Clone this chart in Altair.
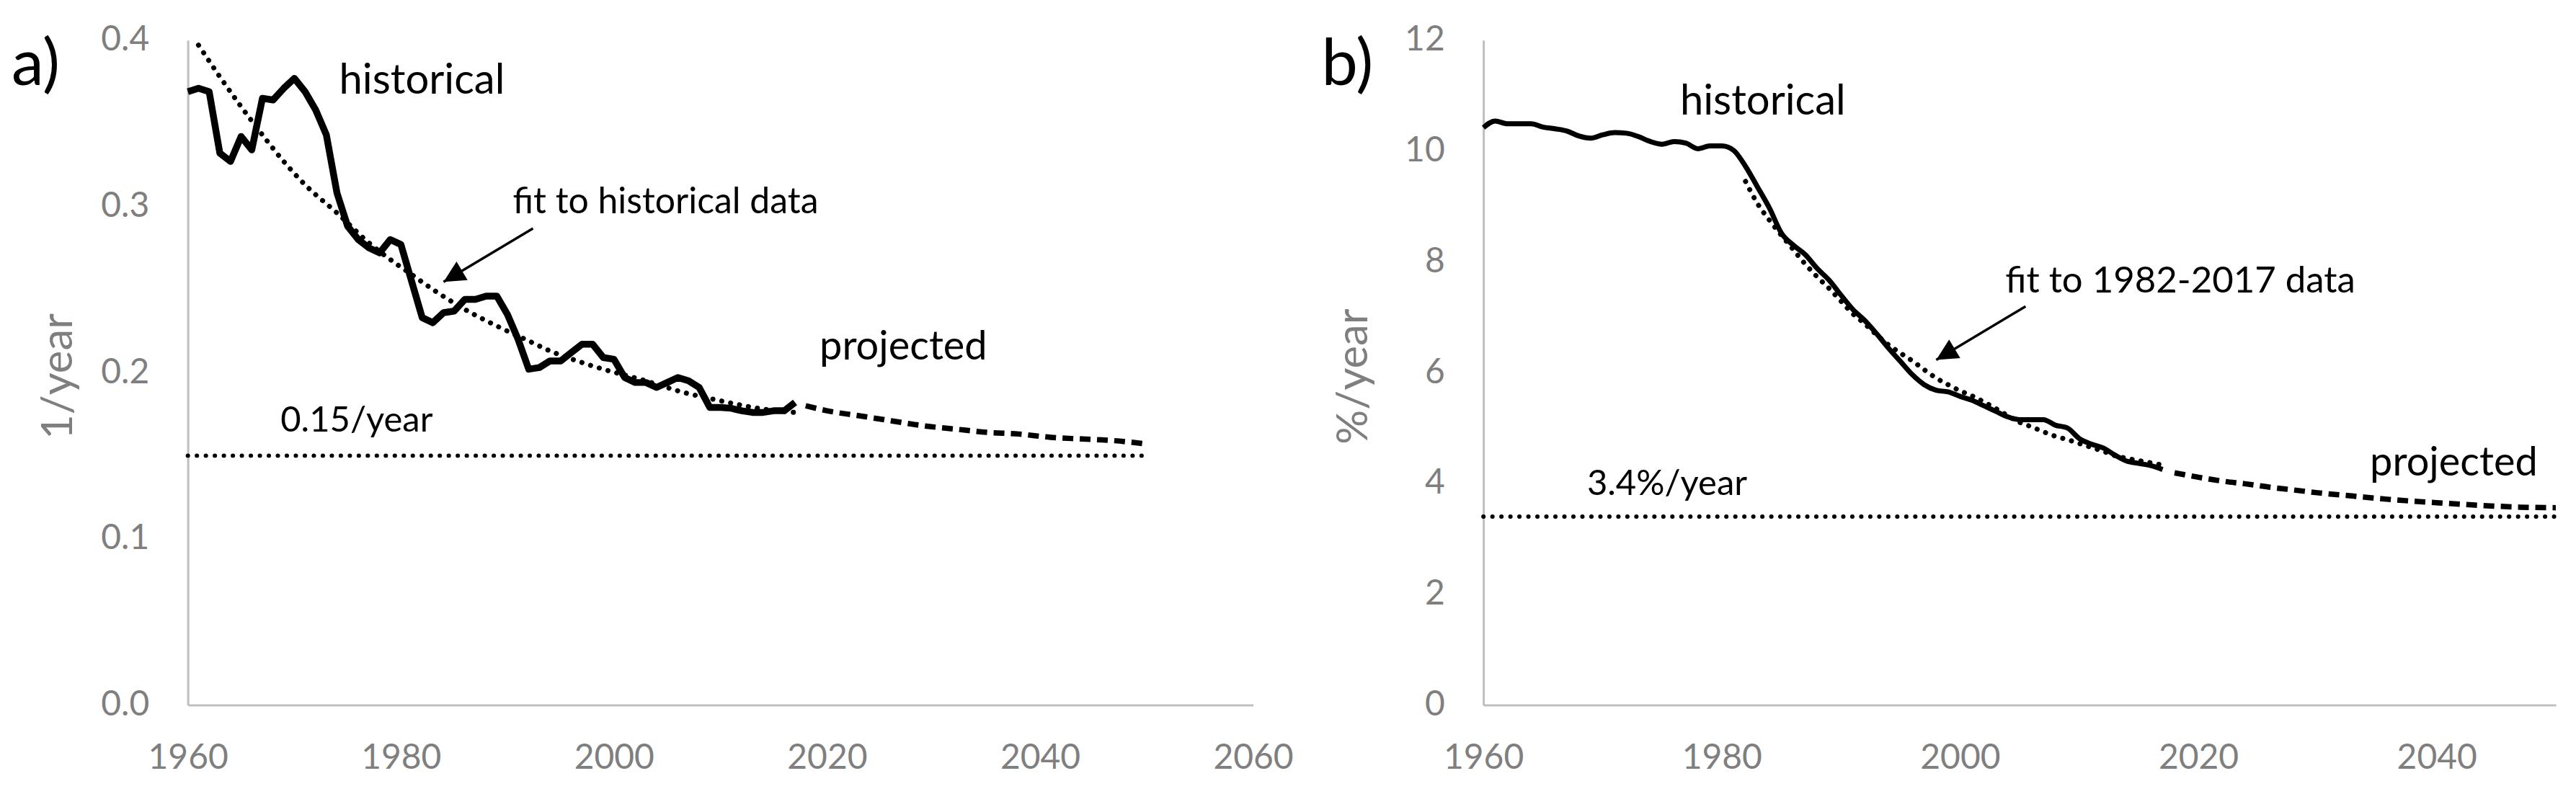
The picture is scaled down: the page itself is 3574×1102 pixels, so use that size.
import altair as alt
import pandas as pd

FONT = "Lato"
GRAY_TXT = "#7F7F7F"
GRAY_AX = "#BFBFBF"

# ---------------- panel a data ----------------
a_years = list(range(1960, 2018))
a_hist = [0.369, 0.371, 0.369, 0.332, 0.327, 0.342, 0.334, 0.365, 0.364, 0.371,
          0.377, 0.369, 0.358, 0.343, 0.308, 0.288, 0.280, 0.275, 0.272, 0.280,
          0.277, 0.255, 0.233, 0.230, 0.236, 0.237, 0.244, 0.244, 0.246, 0.246,
          0.235, 0.220, 0.202, 0.203, 0.207, 0.207, 0.212, 0.217, 0.217, 0.209,
          0.208, 0.197, 0.194, 0.194, 0.191, 0.194, 0.197, 0.195, 0.191, 0.179,
          0.179, 0.1785, 0.177, 0.176, 0.176, 0.177, 0.177, 0.182]
a_fit_years = [1961, 1963, 1965, 1967, 1969, 1971, 1974, 1977, 1979, 1981, 1983,
               1986, 1989, 1992, 1994, 1997, 1999, 2003, 2006, 2010, 2014, 2017]
a_fit = [0.397, 0.378, 0.360, 0.343, 0.327, 0.313, 0.296, 0.278, 0.268, 0.259, 0.250,
         0.238, 0.228, 0.219, 0.213, 0.206, 0.202, 0.195, 0.189, 0.183, 0.178, 0.176]
a_proj_years = [2018, 2020, 2023, 2026, 2029, 2032, 2035, 2038, 2041, 2044, 2047, 2050]
a_proj = [0.180, 0.177, 0.174, 0.171, 0.168, 0.166, 0.164, 0.163, 0.161, 0.160, 0.159, 0.157]
a_asym = 0.15
a_asym_span = [1960, 2050]
a_xticks = [1960, 1980, 2000, 2020, 2040, 2060]
a_yticks = [0.0, 0.1, 0.2, 0.3, 0.4]
a_labels = ["historical", "fit to historical data", "projected", "0.15/year"]
a_label_x = [1974.2, 1990.5, 2019.3, 1968.7]
a_label_y = [0.368, 0.296, 0.208, 0.1645]
a_label_size = [58, 50, 56, 49]
a_arrow_from = [1992.4, 0.2867]
a_arrow_to = [1984.0, 0.2545]

# ---------------- panel b data ----------------
b_years = list(range(1960, 2018))
b_hist = [10.42, 10.54, 10.49, 10.49, 10.49, 10.43, 10.40, 10.36, 10.27, 10.23,
          10.29, 10.33, 10.32, 10.26, 10.17, 10.12, 10.17, 10.14, 10.04, 10.09,
          10.09, 10.01, 9.72, 9.35, 8.97, 8.52, 8.30, 8.13, 7.88, 7.67,
          7.40, 7.14, 6.94, 6.70, 6.44, 6.20, 5.96, 5.78, 5.68, 5.65,
          5.57, 5.50, 5.40, 5.30, 5.20, 5.15, 5.15, 5.15, 5.05, 5.00,
          4.81, 4.71, 4.64, 4.51, 4.40, 4.36, 4.32, 4.25]
b_fit_years = list(range(1982, 2018))
b_fit = [9.45, 9.05, 8.75, 8.48, 8.22, 7.96, 7.73, 7.52, 7.29, 7.06,
         6.88, 6.68, 6.50, 6.35, 6.21, 6.05, 5.90, 5.78, 5.67, 5.58,
         5.47, 5.35, 5.22, 5.10, 5.02, 4.93, 4.85, 4.79, 4.72, 4.65,
         4.58, 4.50, 4.45, 4.41, 4.37, 4.33]
b_proj_years = [2018, 2020, 2022, 2024, 2026, 2028, 2030, 2033, 2036, 2040, 2043, 2047, 2050]
b_proj = [4.19, 4.11, 4.04, 3.99, 3.93, 3.88, 3.83, 3.77, 3.71, 3.65, 3.61, 3.57, 3.56]
b_asym = 3.4
b_asym_span = [1960, 2050]
b_xticks = [1960, 1980, 2000, 2020, 2040]
b_yticks = [0, 2, 4, 6, 8, 10, 12]
b_labels = ["historical", "fit to 1982-2017 data", "3.4%/year", "projected"]
b_label_x = [1976.5, 2003.8, 1968.7, 2034.4]
b_label_y = [10.65, 7.44, 3.79, 4.14]
b_label_size = [58, 51, 49, 56]
b_arrow_from = [2005.5, 7.195]
b_arrow_to = [1998.0, 6.227]


def panel(letter, letter_dx, years, hist, hist_w, hist_interp, fit_years, fit,
          proj_years, proj, asym, span, xdom, xticks, ydom, yticks, yfmt, ytitle,
          title_dx, labels, lx, ly, lsize, arrow_from, arrow_to, arrow_angle, width):
    x = alt.X("year:Q",
              scale=alt.Scale(domain=xdom, nice=False, zero=False),
              axis=alt.Axis(values=xticks, format="d", title=None, grid=False,
                            ticks=False, tickSize=0, labelPadding=50, labelFlush=False,
                            domainColor=GRAY_AX, domainWidth=3, labelColor=GRAY_TXT,
                            labelFontSize=48, labelFont=FONT))
    y = alt.Y("val:Q",
              scale=alt.Scale(domain=ydom, nice=False, zero=False),
              axis=alt.Axis(values=yticks, format=yfmt, title=ytitle, grid=False,
                            ticks=False, tickSize=0, labelPadding=54, labelFlush=False,
                            domainColor=GRAY_AX, domainWidth=3, labelColor=GRAY_TXT,
                            labelFontSize=48, labelFont=FONT,
                            titleColor=GRAY_TXT, titleFontSize=60, titleFont=FONT,
                            titleFontWeight="normal", titleX=title_dx, titleY=467,
                            titleAlign="center", titleBaseline="middle", titleAngle=270))

    df_hist = pd.DataFrame({"year": years, "val": hist})
    df_fit = pd.DataFrame({"year": fit_years, "val": fit})
    df_proj = pd.DataFrame({"year": proj_years, "val": proj})
    df_asym = pd.DataFrame({"year": [span[0]], "year2": [span[1]], "val": [asym]})
    df_lab = pd.DataFrame({"year": lx, "val": ly, "t": labels, "fs": lsize})
    df_arr = pd.DataFrame({"year": [arrow_from[0]], "val": [arrow_from[1]],
                           "year2": [arrow_to[0]], "val2": [arrow_to[1]]})
    df_tip = pd.DataFrame({"year": [arrow_to[0]], "val": [arrow_to[1]]})
    df_letter = pd.DataFrame({"t": [letter]})

    l_hist = alt.Chart(df_hist).mark_line(color="black", strokeWidth=hist_w,
                                          interpolate=hist_interp, strokeJoin="round").encode(x=x, y=y)
    l_fit = alt.Chart(df_fit).mark_line(color="black", strokeWidth=7, strokeDash=[0.1, 12.5],
                                        strokeCap="round", interpolate="monotone").encode(x=x, y=y)
    l_proj = alt.Chart(df_proj).mark_line(color="black", strokeWidth=7.5, strokeDash=[15, 9],
                                          interpolate="monotone").encode(x=x, y=y)
    l_asym = alt.Chart(df_asym).mark_rule(color="black", strokeWidth=6, strokeDash=[0.1, 12.4],
                                          strokeCap="round").encode(x=x, x2="year2:Q", y=y)
    l_text = alt.Chart(df_lab).mark_text(align="left", baseline="alphabetic", font=FONT,
                                         color="black").encode(
        x=x, y=y, text="t:N", size=alt.Size("fs:Q", scale=None, legend=None))
    l_arr = alt.Chart(df_arr).mark_rule(color="black", strokeWidth=3.5).encode(
        x=x, y=y, x2="year2:Q", y2="val2:Q")
    l_tip = alt.Chart(df_tip).mark_point(shape="M0,0 L1,2 L-1,2 Z", size=900, angle=arrow_angle,
                                         filled=True, color="black", opacity=1,
                                         strokeWidth=0).encode(x=x, y=y)
    l_letter = alt.Chart(df_letter).mark_text(align="left", baseline="alphabetic", fontSize=90,
                                              font=FONT, color="black").encode(
        x=alt.value(letter_dx), y=alt.value(62), text="t:N")

    return alt.layer(l_hist, l_fit, l_proj, l_asym, l_text, l_arr, l_tip, l_letter).properties(
        width=width, height=924)


pa = panel("a)", -245, a_years, a_hist, 9.5, "linear", a_fit_years, a_fit, a_proj_years, a_proj,
           a_asym, a_asym_span, [1960, 2060], a_xticks, [0, 0.4], a_yticks, ".1f", "1/year",
           -179, a_labels, a_label_x, a_label_y, a_label_size, a_arrow_from, a_arrow_to, 239.2, 1480)
pb = panel("b)", -225, b_years, b_hist, 7, "monotone", b_fit_years, b_fit, b_proj_years, b_proj,
           b_asym, b_asym_span, [1960, 2050], b_xticks, [0, 12], b_yticks, "d", "%/year",
           -180, b_labels, b_label_x, b_label_y, b_label_size, b_arrow_from, b_arrow_to, 238.8, 1490)

chart = alt.hconcat(pa, pb, spacing=320, bounds="flush").properties(
    padding={"left": 8, "top": 23, "right": 5, "bottom": 5}
).configure_view(stroke=None)

chart.save("out.html", embed_options={"renderer": "svg", "actions": False})
